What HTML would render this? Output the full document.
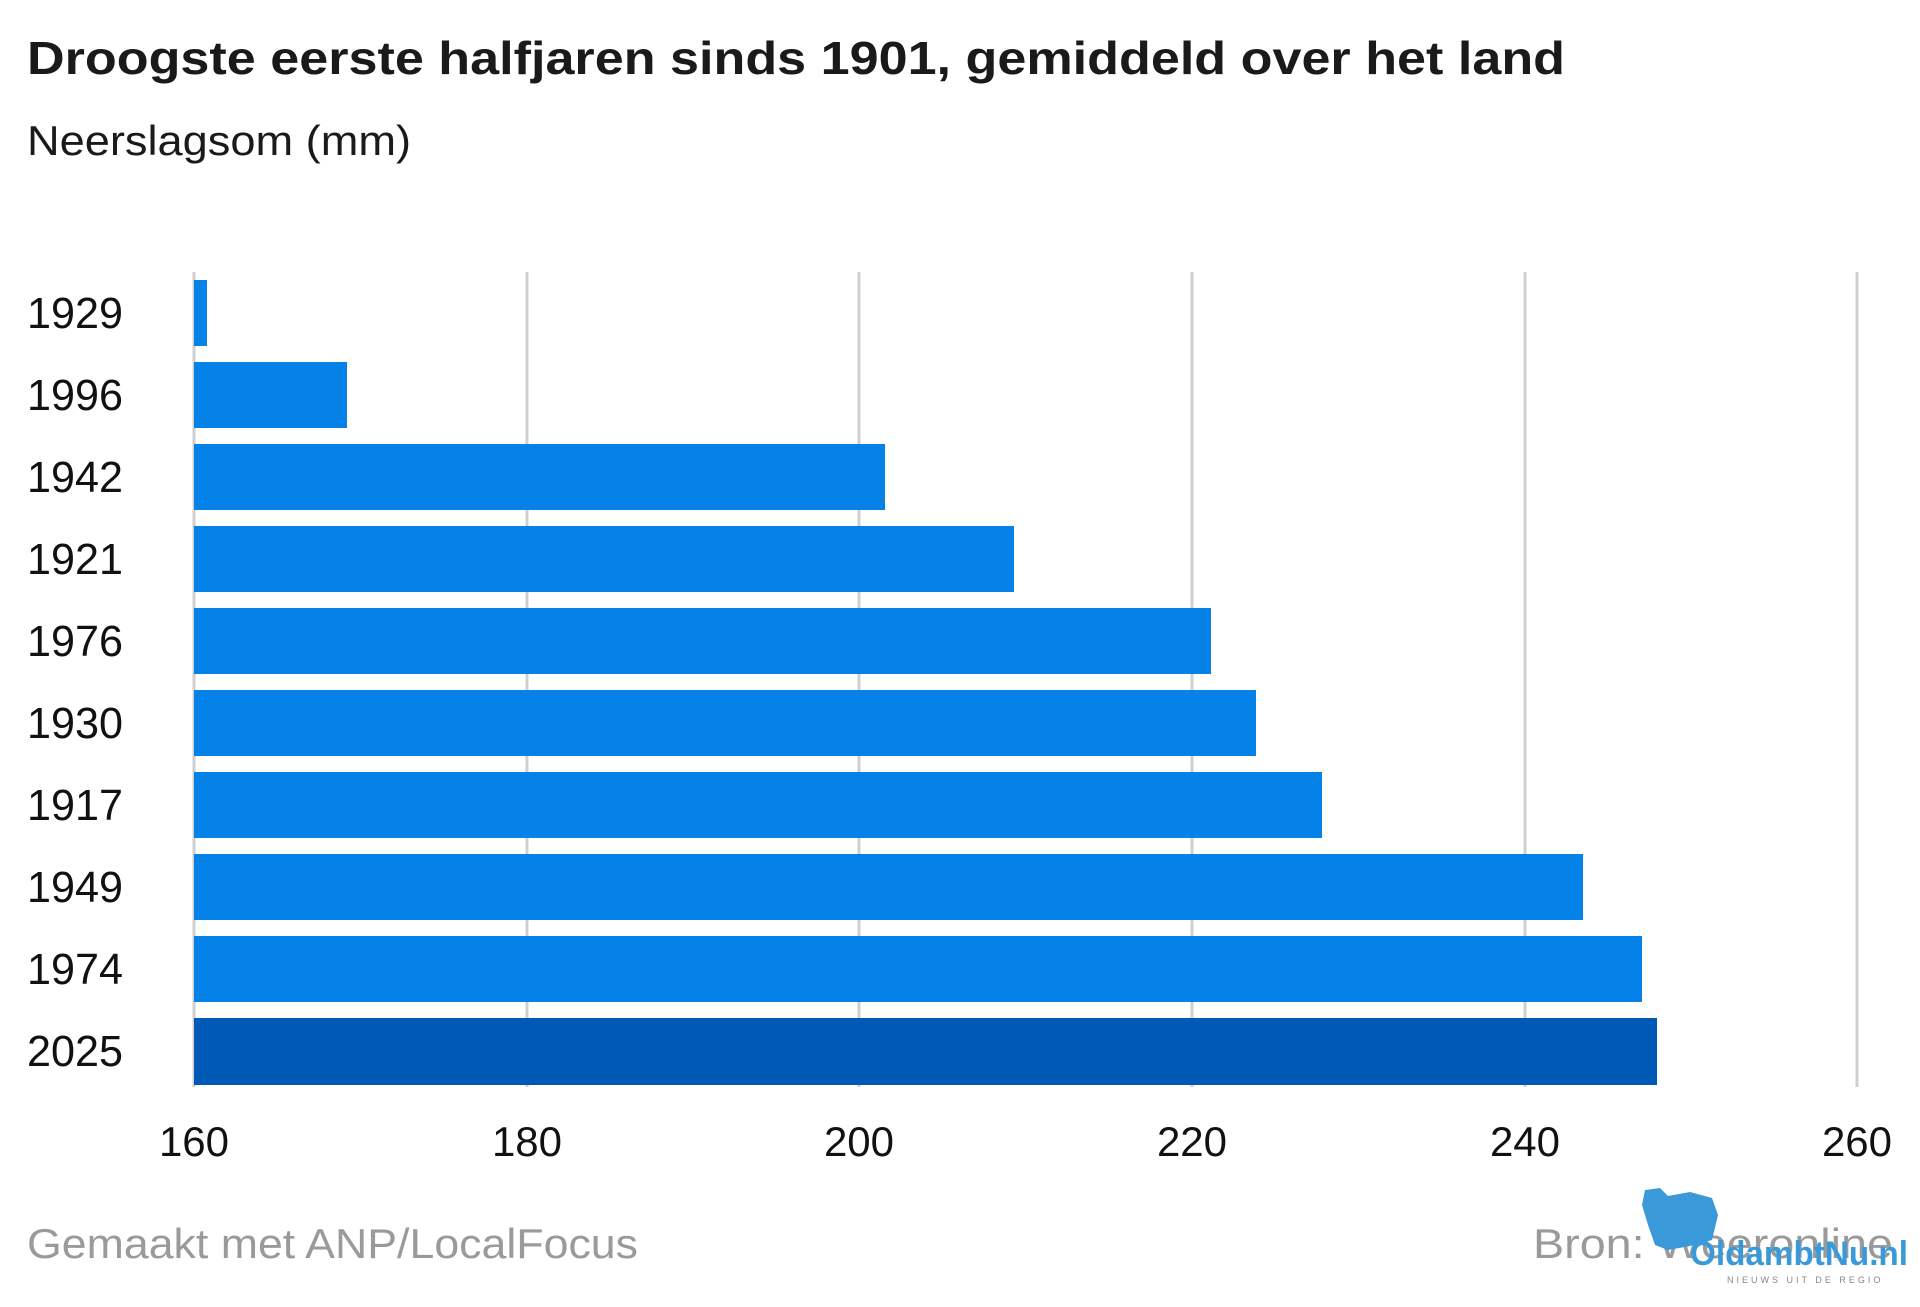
<!DOCTYPE html>
<html><head><meta charset="utf-8"><style>html,body{margin:0;padding:0;background:#fff}svg{display:block}</style></head>
<body>
<svg width="1920" height="1307" viewBox="0 0 1920 1307" xmlns="http://www.w3.org/2000/svg" font-family="Liberation Sans, sans-serif">
<rect width="1920" height="1307" fill="#fff"/>
<text x="27" y="74" font-size="46" font-weight="bold" fill="#1a1a1a" textLength="1538" lengthAdjust="spacingAndGlyphs">Droogste eerste halfjaren sinds 1901, gemiddeld over het land</text>
<text x="27" y="155" font-size="42" fill="#1a1a1a" textLength="384" lengthAdjust="spacingAndGlyphs">Neerslagsom (mm)</text>
<g stroke="#cfcfcf" stroke-width="3">
<line x1="194" y1="272" x2="194" y2="1087"/>
<line x1="527" y1="272" x2="527" y2="1087"/>
<line x1="859" y1="272" x2="859" y2="1087"/>
<line x1="1192" y1="272" x2="1192" y2="1087"/>
<line x1="1525" y1="272" x2="1525" y2="1087"/>
<line x1="1857" y1="272" x2="1857" y2="1087"/>
</g>
<g fill="#0582e8">
<rect x="194" y="280" width="13" height="66"/>
<rect x="194" y="362" width="153" height="66"/>
<rect x="194" y="444" width="691" height="66"/>
<rect x="194" y="526" width="820" height="66"/>
<rect x="194" y="608" width="1017" height="66"/>
<rect x="194" y="690" width="1062" height="66"/>
<rect x="194" y="772" width="1128" height="66"/>
<rect x="194" y="854" width="1389" height="66"/>
<rect x="194" y="936" width="1448" height="66"/>
</g>
<rect x="194" y="1018" width="1463" height="67" fill="#0059b5"/>
<g font-size="44" fill="#111">
<text x="27" y="328" textLength="96" lengthAdjust="spacingAndGlyphs">1929</text>
<text x="27" y="410" textLength="96" lengthAdjust="spacingAndGlyphs">1996</text>
<text x="27" y="492" textLength="96" lengthAdjust="spacingAndGlyphs">1942</text>
<text x="27" y="574" textLength="96" lengthAdjust="spacingAndGlyphs">1921</text>
<text x="27" y="656" textLength="96" lengthAdjust="spacingAndGlyphs">1976</text>
<text x="27" y="738" textLength="96" lengthAdjust="spacingAndGlyphs">1930</text>
<text x="27" y="820" textLength="96" lengthAdjust="spacingAndGlyphs">1917</text>
<text x="27" y="902" textLength="96" lengthAdjust="spacingAndGlyphs">1949</text>
<text x="27" y="984" textLength="96" lengthAdjust="spacingAndGlyphs">1974</text>
<text x="27" y="1066" textLength="96" lengthAdjust="spacingAndGlyphs">2025</text>
</g>
<g font-size="42" fill="#111" text-anchor="middle">
<text x="194" y="1156">160</text>
<text x="527" y="1156">180</text>
<text x="859" y="1156">200</text>
<text x="1192" y="1156">220</text>
<text x="1525" y="1156">240</text>
<text x="1857" y="1156">260</text>
</g>
<text x="27" y="1258" font-size="42" fill="#9a9a9a" textLength="611" lengthAdjust="spacingAndGlyphs">Gemaakt met ANP/LocalFocus</text>
<text x="1533" y="1258" font-size="42" fill="#9a9a9a" textLength="360" lengthAdjust="spacingAndGlyphs">Bron: Weeronline</text>
<path d="M1645 1190 L1660 1188 L1668 1196 L1690 1192 L1712 1198 L1718 1215 L1712 1240 L1690 1246 L1668 1250 L1655 1245 L1648 1225 L1642 1205 Z" fill="#3a9ad9"/>
<text x="1690" y="1265" font-size="34" font-weight="bold" fill="#3a9ad9" textLength="218" lengthAdjust="spacingAndGlyphs">OldambtNu.nl</text>
<text x="1727" y="1283" font-size="9" fill="#888" letter-spacing="3">NIEUWS UIT DE REGIO</text>
</svg>
</body></html>
